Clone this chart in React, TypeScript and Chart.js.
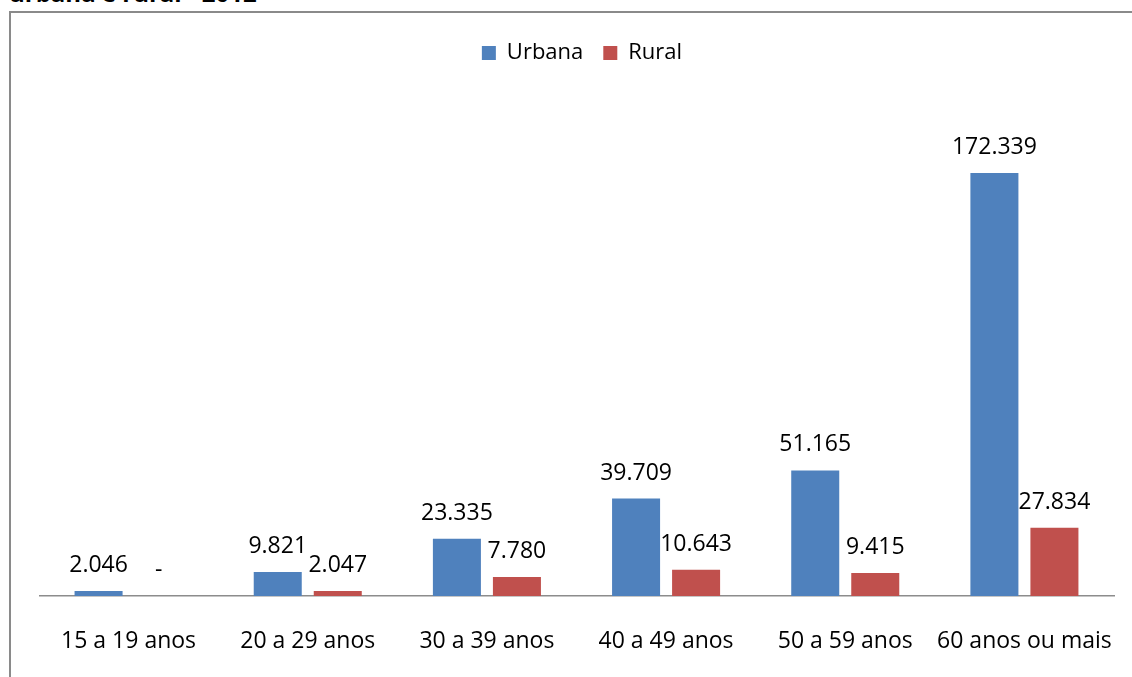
import React, { useEffect, useRef } from "react";
import { Chart, registerables } from "chart.js";

Chart.register(...registerables);

const categories = [
  "15 a 19 anos",
  "20 a 29 anos",
  "30 a 39 anos",
  "40 a 49 anos",
  "50 a 59 anos",
  "60 anos ou mais",
];
const seriesNames = ["Urbana", "Rural"];
const urbana = [2046, 9821, 23335, 39709, 51165, 172339];
const rural = [0, 2047, 7780, 10643, 9415, 27834];
const seriesColors = ["#4F81BD", "#C0504D"];
const yMin = 0;
const yMax = 200000;
const titleText = "urbana e rural - 2012";

const FONT = "'Open Sans', 'Liberation Sans', sans-serif";

function fmt(v: number): string {
  if (!v) return "-";
  return String(v).replace(/\B(?=(\d{3})+(?!\d))/g, ".");
}

const dataLabelPlugin = {
  id: "dataLabels",
  afterDatasetsDraw(chart: any) {
    const ctx = chart.ctx;
    ctx.save();
    ctx.font = `23px ${FONT}`;
    ctx.fillStyle = "#000";
    ctx.textAlign = "center";
    ctx.textBaseline = "alphabetic";
    chart.data.datasets.forEach((ds: any, i: number) => {
      const meta = chart.getDatasetMeta(i);
      meta.data.forEach((el: any, j: number) => {
        ctx.fillText(fmt(ds.data[j]), el.x, el.y - 19);
      });
    });
    ctx.restore();
  },
};

const legendSpacer = {
  id: "legendSpacer",
  beforeInit(chart: any) {
    const orig = chart.legend.fit;
    chart.legend.fit = function fit() {
      orig.call(this);
      this.height += 31;
    };
  },
};

export default function App() {
  const ref = useRef<HTMLCanvasElement | null>(null);
  useEffect(() => {
    if (!ref.current) return;
    const chart = new Chart(ref.current, {
      type: "bar",
      data: {
        labels: categories,
        datasets: [
          {
            label: seriesNames[0],
            data: urbana,
            backgroundColor: seriesColors[0],
            categoryPercentage: 0.67,
            barPercentage: 0.8,
          },
          {
            label: seriesNames[1],
            data: rural,
            backgroundColor: seriesColors[1],
            categoryPercentage: 0.67,
            barPercentage: 0.8,
          },
        ],
      },
      options: {
        responsive: false,
        animation: false,
        devicePixelRatio: 1,
        layout: { padding: { top: 22, left: 0, right: 0, bottom: 0 } },
        plugins: {
          tooltip: { enabled: false },
          legend: {
            position: "top",
            labels: {
              boxWidth: 14,
              boxHeight: 14,
              padding: 20,
              color: "#000",
              font: { family: FONT, size: 22 },
            },
          },
        },
        scales: {
          x: {
            grid: {
              display: true,
              drawOnChartArea: false,
              drawTicks: true,
              tickLength: 32,
              color: "rgba(0,0,0,0)",
            },
            border: { display: true, color: "#8c8c8c", width: 1.5 },
            ticks: {
              color: "#000",
              font: { family: FONT, size: 23 },
              padding: 0,
              maxRotation: 0,
              autoSkip: false,
            },
            afterFit: (s: any) => {
              s.height = 81;
            },
          },
          y: {
            position: "right",
            min: yMin,
            max: yMax,
            display: true,
            grid: { display: false },
            border: { display: false },
            ticks: { display: false },
            afterFit: (s: any) => {
              s.width = 11;
            },
          },
        },
      },
      plugins: [dataLabelPlugin, legendSpacer],
    });
    return () => chart.destroy();
  }, []);

  return (
    <div
      style={{
        position: "absolute",
        left: 0,
        top: 0,
        width: 1132,
        height: 677,
        overflow: "hidden",
        background: "#fff",
      }}
    >
      <div
        style={{
          position: "absolute",
          left: 9,
          top: -19,
          fontFamily: FONT,
          fontWeight: "bold",
          fontSize: 24,
          lineHeight: "24px",
          whiteSpace: "nowrap",
          color: "#000",
        }}
      >
        {titleText}
      </div>
      <div
        style={{
          position: "absolute",
          left: 9,
          top: 11,
          width: 1200,
          height: 800,
          borderLeft: "2px solid #8a8a8a",
          borderTop: "2px solid #8a8a8a",
        }}
      />
      <canvas
        ref={ref}
        width={1086}
        height={677}
        style={{ position: "absolute", left: 39, top: 0, width: 1086, height: 677 }}
      />
    </div>
  );
}
